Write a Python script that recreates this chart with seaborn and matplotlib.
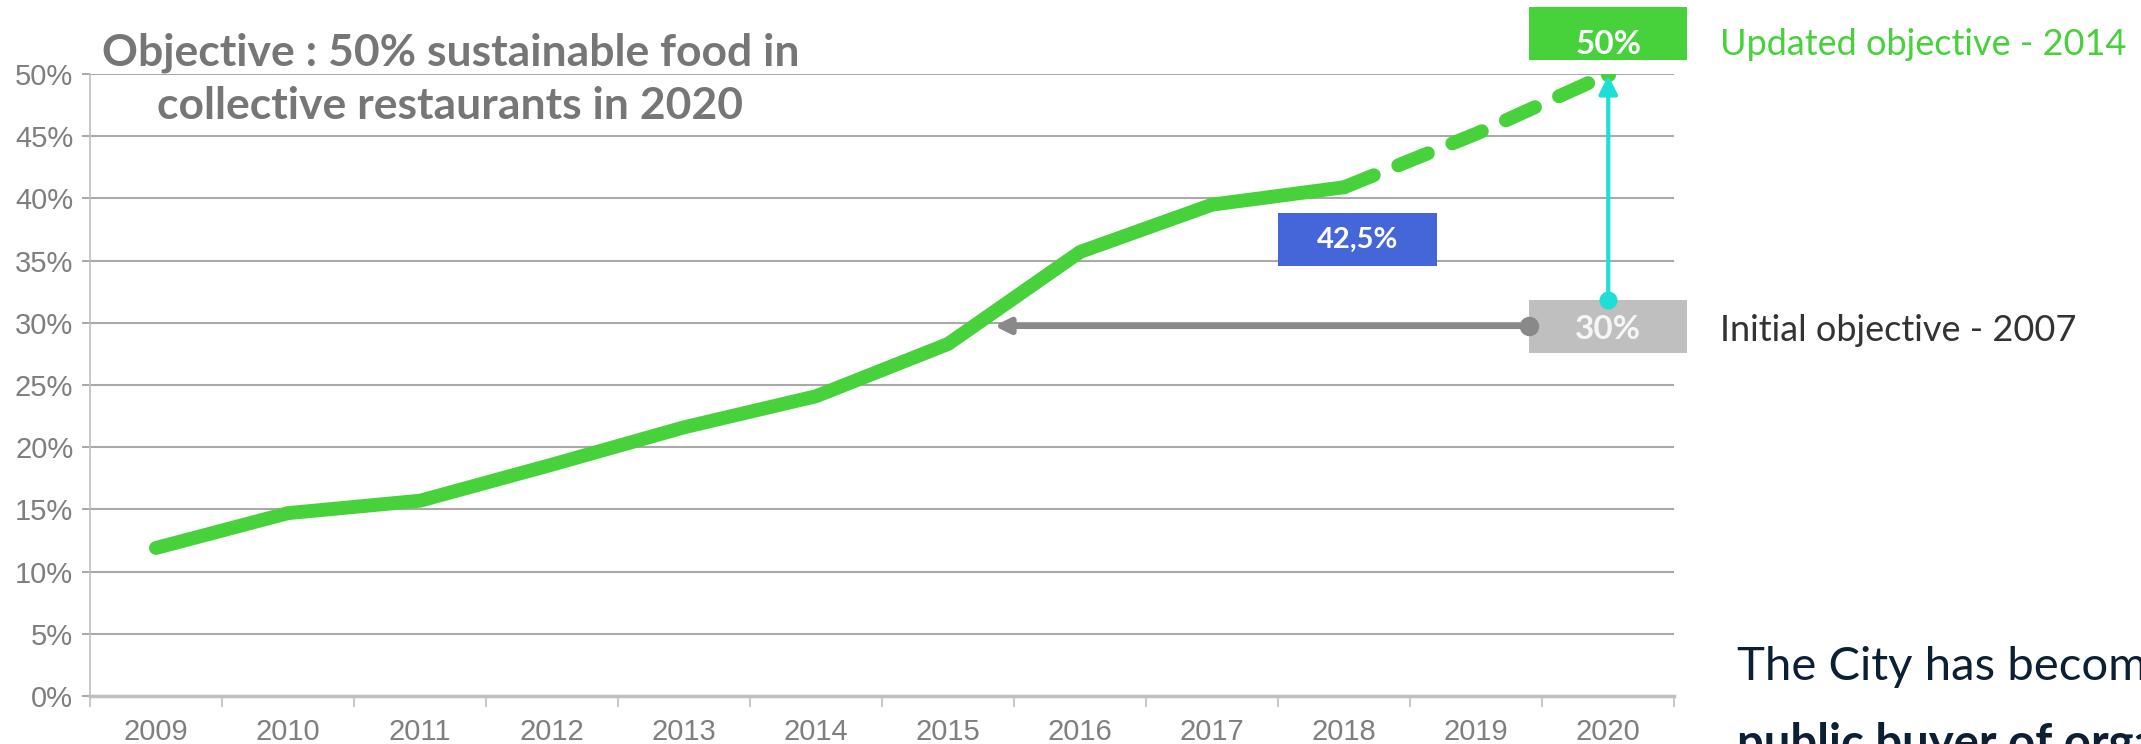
import seaborn as sns
import matplotlib.pyplot as plt
from matplotlib.patches import Rectangle

# Share of sustainable food in collective restaurants (%)
years_actual = [2009, 2010, 2011, 2012, 2013, 2014, 2015, 2016, 2017, 2018]
share_actual = [11.9, 14.7, 15.7, 18.6, 21.6, 24.1, 28.3, 35.7, 39.5, 40.9]
years_target = [2018, 2019, 2020]
share_target = [40.9, 45.2, 50.0]
year_labels = ["2009", "2010", "2011", "2012", "2013", "2014",
               "2015", "2016", "2017", "2018", "2019", "2020"]
y_ticks = [0, 5, 10, 15, 20, 25, 30, 35, 40, 45, 50]
y_tick_labels = [f"{v}%" for v in y_ticks]

initial_objective = 30
updated_objective = 50
label_2018 = "42,5%"

GREEN = "#47D13B"
GRID = "#A9A9A9"
TICK_TXT = "#7F7F7F"
CYAN = "#1EDFD6"
ARROW_GRAY = "#898989"
BOX_GRAY = "#BFBFBF"
BLUE = "#4466D8"

sns.set_theme(style="white")
narrow = ["Liberation Sans Narrow", "Liberation Sans", "DejaVu Sans"]
calib = ["Lato", "DejaVu Sans"]
plt.rcParams["font.family"] = calib

fig = plt.figure(figsize=(21.41, 7.44), dpi=100)
ax = fig.add_axes([0.042, 0.0645, 0.74, 0.836])

sns.lineplot(x=years_actual, y=share_actual, ax=ax, color=GREEN,
             linewidth=10, solid_capstyle="round", zorder=4)
sns.lineplot(x=years_target, y=share_target, ax=ax, color=GREEN,
             linewidth=10, zorder=4)
dash_line = ax.lines[-1]
dash_line.set_dashes((2.3, 1.9))
dash_line.set_dash_capstyle("round")
ax.plot(years_target[-1], share_target[-1], "o", color=GREEN, ms=10, zorder=5)

all_years = years_actual + years_target[1:]
ax.set_xlim(all_years[0] - 0.5, all_years[-1] + 0.5)
ax.set_ylim(0, 50)
ax.set_xticks(all_years)
ax.set_xticklabels(year_labels, family=narrow, fontsize=21, color=TICK_TXT)
ax.set_xticks([y - 0.5 for y in all_years] + [all_years[-1] + 0.5], minor=True)
ax.tick_params(axis="x", which="major", length=0, pad=16)
ax.tick_params(axis="x", which="minor", length=8, width=1.2, color=BOX_GRAY,
               direction="out", bottom=True)
ax.set_yticks(y_ticks)
ax.set_yticklabels(y_tick_labels, family=narrow, fontsize=21, color=TICK_TXT)
ax.tick_params(axis="y", length=6, width=1.4, color=GRID, left=True, pad=6)

ax.yaxis.grid(True, color=GRID, linewidth=1.5)
ax.set_axisbelow(True)
for side in ["top", "right"]:
    ax.spines[side].set_visible(False)
ax.spines["left"].set_color(BOX_GRAY)
ax.spines["left"].set_linewidth(1.2)
ax.spines["bottom"].set_color(BOX_GRAY)
ax.spines["bottom"].set_linewidth(2.5)

# title inside the plot
ax.text(2011.23, 49.55, "Objective : 50% sustainable food in\ncollective restaurants in 2020",
        ha="center", va="center", fontsize=32, fontweight="bold", color="#767676",
        linespacing=1.4, family=calib)

x_obj = all_years[-1]
box_w = 1.2

# updated objective box
top_box = Rectangle((x_obj - box_w / 2, updated_objective + 1.1), box_w, 4.3,
                    facecolor=GREEN, edgecolor="none", clip_on=False, zorder=6)
ax.add_patch(top_box)
ax.text(x_obj, updated_objective + 2.4, f"{updated_objective}%", ha="center", va="center",
        color="white", fontsize=24, fontweight="bold", zorder=7, clip_on=False)

# initial objective box
low_box = Rectangle((x_obj - box_w / 2, initial_objective - 2.4), box_w, 4.2,
                    facecolor=BOX_GRAY, edgecolor="none", clip_on=False, zorder=6)
ax.add_patch(low_box)
ax.text(x_obj, initial_objective - 0.5, f"{initial_objective}%", ha="center", va="center",
        color="#F6F6F6", fontsize=24, fontweight="bold", zorder=7)

# 2018 label box
blue_box = Rectangle((2017.5, 34.6), box_w, 4.2, facecolor=BLUE, edgecolor="none", zorder=6)
ax.add_patch(blue_box)
ax.text(2018.1, 36.7, label_2018, ha="center", va="center", color="white",
        fontsize=21, fontweight="bold", zorder=7)

# cyan arrow from initial to updated objective
low_top = initial_objective + 1.8
ax.annotate("", xy=(x_obj, updated_objective - 0.1), xytext=(x_obj, low_top),
            arrowprops=dict(arrowstyle="-|>", color=CYAN, lw=3, mutation_scale=28,
                            shrinkA=0, shrinkB=0), zorder=8, annotation_clip=False)
ax.plot(x_obj, low_top, "o", color=CYAN, ms=12, zorder=8)

# gray arrow from initial objective back to the curve
ax.annotate("", xy=(2015.35, initial_objective - 0.25),
            xytext=(x_obj - box_w / 2, initial_objective - 0.25),
            arrowprops=dict(arrowstyle="-|>", color=ARROW_GRAY, lw=4.5, mutation_scale=22,
                            shrinkA=0, shrinkB=0), zorder=5)
ax.plot(x_obj - box_w / 2, initial_objective - 0.25, "o", color=ARROW_GRAY, ms=13, zorder=6)

# side labels
ax.text(2020.85, updated_objective + 2.4, "Updated objective - 2014", ha="left", va="center",
        color=GREEN, fontsize=26, clip_on=False)
ax.text(2020.85, initial_objective - 0.6, "Initial objective - 2007", ha="left", va="center",
        color="#333333", fontsize=26, clip_on=False)
fig.text(1737 / 2141, 1 - 680 / 744, "The City has become the first", ha="left",
         va="baseline", color="#0D1F35", fontsize=34)
fig.text(1737 / 2141, 1 - 758 / 744, "public buyer of organic food", ha="left",
         va="baseline", color="#0D1F35", fontsize=34, fontweight="bold")

fig.savefig("out.png", dpi=100)
